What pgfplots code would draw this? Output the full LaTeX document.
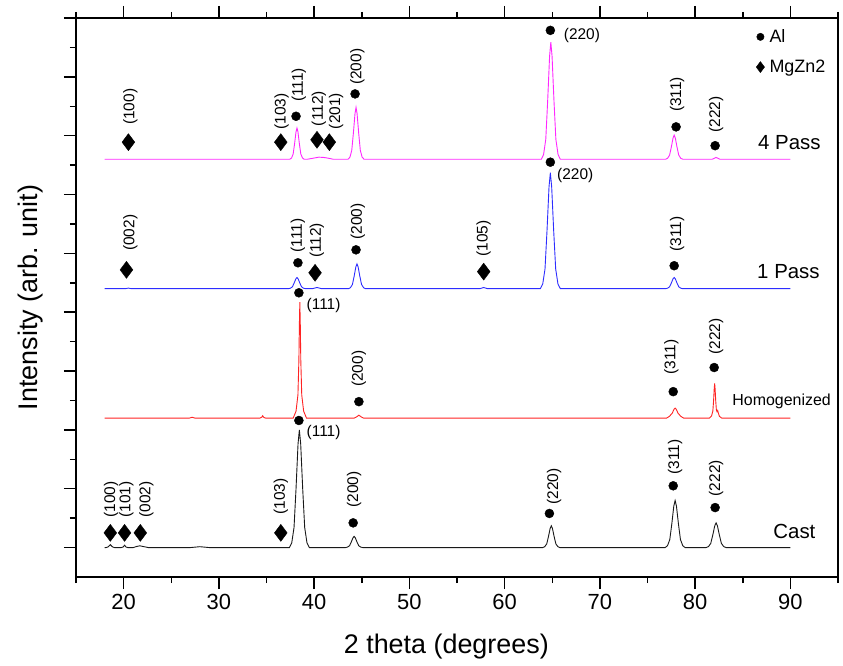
\documentclass[border=0pt]{standalone}
\usepackage{fontspec}
\setmainfont{Liberation Sans}
\usepackage{pgfplots}
\pgfplotsset{compat=1.18}
\definecolor{cmag}{RGB}{255,40,255}
\definecolor{cblue}{RGB}{45,45,255}
\definecolor{cred}{RGB}{255,35,35}
\definecolor{cblk}{RGB}{25,25,25}
\newcommand{\lbl}{\fontsize{15.5}{18}\selectfont}
\newcommand{\crv}{\fontsize{20.5}{24}\selectfont}

\begin{document}
\begin{tikzpicture}
\begin{axis}[
  scale only axis, width=762bp, height=559bp,
  xmin=15, xmax=95, ymin=-0.5, ymax=9,
  xtick={20,30,...,90}, minor xtick={15,25,...,95},
  ytick={0,...,9}, minor ytick={0.5,1.5,...,8.5}, yticklabels={},
  tick align=outside, xtick pos=both, ytick pos=left,
  major tick length=12bp, minor tick length=6bp,
  axis line style={line width=1.5bp},
  tick style={black, line width=1.5bp},
  /pgf/number format/assume math mode=true,
  ticklabel style={font=\fontsize{22}{26}\selectfont},
  xticklabel style={yshift=-2bp},
  xlabel={2 theta (degrees)}, ylabel={Intensity (arb. unit)},
  every axis x label/.style={at={(axis description cs:0.486,-0.125)}, anchor=center,
    font=\fontsize{27}{32}\selectfont},
  every axis y label/.style={at={(axis description cs:-0.060,0.5)}, anchor=center, rotate=90,
    font=\fontsize{27}{32}\selectfont},
  clip=false,
  legend style={draw=none, fill=none, at={(axis cs:86.4,8.84)}, anchor=north west,
    font=\fontsize{18}{21}\selectfont, row sep=12bp, inner sep=0pt,
    /tikz/every odd column/.append style={column sep=3bp}},
  legend cell align=left,
]

\addlegendimage{only marks, mark=*, mark size=3.7bp, black}
\addlegendentry{Al}
\addlegendimage{only marks, mark=diamond*, mark size=5.5bp, black}
\addlegendentry{MgZn2}

% 4 Pass
\addplot[cmag, line width=0.9bp, forget plot] table[y expr=\thisrow{y}+6.6] {
x y
18.0 0
37.45 0
37.63 0.021
37.80 0.09
37.95 0.265
38.10 0.466
38.20 0.53
38.30 0.466
38.45 0.265
38.60 0.09
38.78 0.021
38.95 0
39.30 0
40.00 0.02
40.50 0.035
41.00 0.03
41.40 0.02
42.00 0
43.56 0
43.76 0.035
43.95 0.15
44.12 0.44
44.29 0.774
44.40 0.88
44.51 0.774
44.68 0.44
44.85 0.15
45.04 0.035
45.24 0
63.86 0
64.09 0.08
64.32 0.338
64.52 0.995
64.72 1.75
64.85 1.99
64.98 1.75
65.18 0.995
65.38 0.338
65.61 0.08
65.84 0
76.90 0
77.11 0.016
77.32 0.07
77.50 0.205
77.68 0.36
77.80 0.41
77.92 0.36
78.10 0.205
78.28 0.07
78.49 0.016
78.70 0
81.80 0
82.20 0.03
82.60 0
90.00 0
};

% 1 Pass
\addplot[cblue, line width=0.9bp, forget plot] table[y expr=\thisrow{y}+4.4] {
x y
18.0 0
20.2 0
20.5 0.01
20.8 0
37.30 0
37.51 0.008
37.72 0.032
37.90 0.095
38.08 0.167
38.20 0.19
38.32 0.167
38.50 0.095
38.68 0.032
38.89 0.008
39.10 0
39.80 0
40.30 0.02
40.80 0
43.60 0
43.81 0.017
44.02 0.071
44.20 0.21
44.38 0.37
44.50 0.42
44.62 0.37
44.80 0.21
44.98 0.071
45.19 0.017
45.40 0
57.40 0
57.80 0.02
58.20 0
63.75 0
64.00 0.079
64.24 0.335
64.45 0.985
64.66 1.73
64.80 1.97
64.94 1.73
65.15 0.985
65.36 0.335
65.60 0.079
65.85 0
76.90 0
77.11 0.008
77.32 0.032
77.50 0.095
77.68 0.167
77.80 0.19
77.92 0.167
78.10 0.095
78.28 0.032
78.49 0.008
78.70 0
90.00 0
};

% Homogenized
\addplot[cred, line width=0.9bp, forget plot] table[y expr=\thisrow{y}+2.2] {
x y
18.0 0
26.9 0
27.2 0.015
27.5 0
34.3 0
34.5 0.015
34.6 0.04
34.7 0.015
34.9 0
37.80 0
38.10 0.118
38.30 0.394
38.40 0.985
38.45 1.576
38.50 1.97
38.55 1.576
38.60 0.985
38.70 0.394
38.90 0.118
39.20 0
44.20 0
44.45 0.02
44.70 0.05
44.95 0.02
45.20 0
77.00 0
77.30 0.03
77.60 0.085
77.78 0.15
77.90 0.17
78.02 0.15
78.20 0.085
78.50 0.03
78.80 0
81.50 0
81.72 0.035
81.86 0.12
81.94 0.30
82.00 0.49
82.05 0.59
82.10 0.49
82.16 0.30
82.23 0.14
82.30 0.11
82.37 0.13
82.43 0.09
82.55 0.03
82.80 0
90.00 0
};

% Cast
\addplot[cblk, line width=0.9bp, forget plot] table {
x y
18.00 0
18.15 0
18.35 0.01
18.45 0.025
18.60 0.05
18.75 0.025
18.85 0.01
19.05 0
19.75 0
19.95 0.01
20.10 0.04
20.25 0.01
20.45 0
21.00 0
21.40 0.02
21.70 0.03
22.00 0.02
22.60 0
27.00 0
28.00 0.015
29.00 0
37.40 0
37.65 0.08
37.89 0.34
38.10 1.0
38.31 1.76
38.45 2.0
38.59 1.76
38.80 1.0
39.01 0.34
39.25 0.08
39.50 0
43.30 0
43.50 0.008
43.72 0.032
43.90 0.095
44.08 0.167
44.20 0.19
44.32 0.167
44.50 0.095
44.68 0.032
44.90 0.008
45.10 0
64.00 0
64.21 0.015
64.42 0.063
64.60 0.185
64.78 0.326
64.90 0.37
65.02 0.326
65.20 0.185
65.38 0.063
65.59 0.015
65.80 0
76.85 0
77.10 0.032
77.34 0.136
77.55 0.40
77.76 0.704
77.90 0.80
78.04 0.704
78.25 0.40
78.46 0.136
78.70 0.032
78.95 0
81.15 0
81.40 0.017
81.64 0.071
81.85 0.21
82.06 0.37
82.20 0.42
82.34 0.37
82.55 0.21
82.76 0.071
83.00 0.017
83.25 0
90.00 0
};

% Al peaks
\addplot[only marks, mark=*, mark size=4.5bp, black, forget plot] coordinates {
(38.1,7.33) (44.3,7.71) (64.8,8.79) (78.0,7.15) (82.1,6.83)
(38.3,4.84) (44.4,5.06) (64.8,6.55) (77.8,4.79)
(38.4,4.33) (44.7,2.48) (77.7,2.65) (82.0,3.06)
(38.4,2.16) (44.1,0.42) (64.7,0.58) (77.7,1.05) (82.1,0.68)
};

% MgZn2 peaks
\addplot[only marks, mark=diamond*, mark size=8.5bp, black, forget plot] coordinates {
(20.5,6.89) (36.5,6.89) (40.3,6.93) (41.6,6.89)
(20.3,4.72) (40.1,4.67) (57.8,4.69)
(18.6,0.25) (20.1,0.25) (21.75,0.25) (36.5,0.25)
};

% hkl labels
\begin{scope}[every node/.style={font=\lbl, inner sep=0pt}]
% 4 Pass
\node[rotate=90, anchor=west] at (axis cs:20.7,7.18) {(100)};
\node[rotate=90, anchor=west] at (axis cs:36.6,7.10) {(103)};
\node[rotate=90, anchor=west] at (axis cs:38.4,7.57) {(111)};
\node[rotate=90, anchor=west] at (axis cs:40.5,7.16) {(112)};
\node[rotate=90, anchor=west] at (axis cs:42.3,7.11) {(201)};
\node[rotate=90, anchor=west] at (axis cs:44.55,7.86) {(200)};
\node[anchor=west] at (axis cs:66.2,8.71) {(220)};
\node[rotate=90, anchor=west] at (axis cs:78.1,7.40) {(311)};
\node[rotate=90, anchor=west] at (axis cs:82.2,7.05) {(222)};
% 1 Pass
\node[rotate=90, anchor=west] at (axis cs:20.7,5.04) {(002)};
\node[rotate=90, anchor=west] at (axis cs:38.3,5.01) {(111)};
\node[rotate=90, anchor=west] at (axis cs:40.3,4.92) {(112)};
\node[rotate=90, anchor=west] at (axis cs:44.6,5.23) {(200)};
\node[rotate=90, anchor=west] at (axis cs:57.8,4.94) {(105)};
\node[anchor=west] at (axis cs:65.5,6.33) {(220)};
\node[rotate=90, anchor=west] at (axis cs:78.1,5.03) {(311)};
% Homogenized
\node[anchor=west] at (axis cs:39.2,4.11) {(111)};
\node[rotate=90, anchor=west] at (axis cs:44.7,2.73) {(200)};
\node[rotate=90, anchor=west] at (axis cs:77.5,2.94) {(311)};
\node[rotate=90, anchor=west] at (axis cs:82.2,3.28) {(222)};
% Cast
\node[rotate=90, anchor=west] at (axis cs:18.7,0.51) {(100)};
\node[rotate=90, anchor=west] at (axis cs:20.3,0.51) {(101)};
\node[rotate=90, anchor=west] at (axis cs:22.4,0.51) {(002)};
\node[rotate=90, anchor=west] at (axis cs:36.5,0.56) {(103)};
\node[anchor=west] at (axis cs:39.2,1.95) {(111)};
\node[rotate=90, anchor=west] at (axis cs:44.2,0.68) {(200)};
\node[rotate=90, anchor=west] at (axis cs:65.2,0.73) {(220)};
\node[rotate=90, anchor=west] at (axis cs:77.9,1.24) {(311)};
\node[rotate=90, anchor=west] at (axis cs:82.2,0.87) {(222)};
\end{scope}

% curve names
\node[font=\crv, anchor=west, inner sep=0pt] at (axis cs:86.6,6.89) {4 Pass};
\node[font=\crv, anchor=west, inner sep=0pt] at (axis cs:86.5,4.69) {1 Pass};
\node[font=\fontsize{16}{19}\selectfont, anchor=west, inner sep=0pt] at (axis cs:83.9,2.48) {Homogenized};
\node[font=\crv, anchor=west, inner sep=0pt] at (axis cs:88.2,0.27) {Cast};

\end{axis}
\pgfresetboundingbox
\path (current axis.south west) ++(-76bp,-89bp) rectangle ++(843bp,666bp);
\end{tikzpicture}
\end{document}
